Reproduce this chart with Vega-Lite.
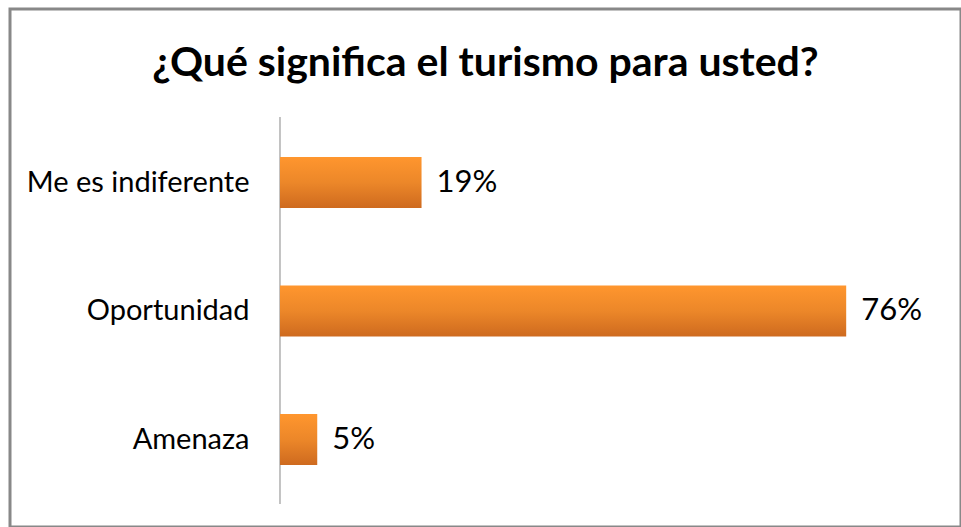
{
  "$schema": "https://vega.github.io/schema/vega-lite/v6.json",
  "autosize": {"type": "none"},
  "padding": {"left": 10, "top": 9, "right": 0, "bottom": 0},
  "width": 951,
  "height": 518,
  "background": "white",
  "config": {
    "view": {"stroke": "#888888", "strokeWidth": 3},
    "font": "Lato"
  },
  "title": {
    "text": "¿Qué significa el turismo para usted?",
    "font": "Lato",
    "fontSize": 41,
    "fontWeight": "bold",
    "color": "#000000",
    "anchor": "middle",
    "frame": "group",
    "baseline": "alphabetic",
    "offset": -108
  },
  "data": {
    "values": [
      {"categoria": "Me es indiferente", "valor": 0.19},
      {"categoria": "Oportunidad", "valor": 0.76},
      {"categoria": "Amenaza", "valor": 0.05}
    ]
  },
  "resolve": {"scale": {"y": "independent"}},
  "layer": [
    {
      "mark": {"type": "tick", "orient": "vertical", "size": 129, "thickness": 1, "color": "#888888", "opacity": 1},
      "encoding": {
        "x": {"datum": 0, "type": "quantitative", "scale": {"domain": [-0.3624, 0.9141], "nice": false, "zero": false}, "axis": null},
        "y": {
          "field": "categoria", "type": "nominal", "sort": null, "axis": null,
          "scale": {"paddingInner": 0, "paddingOuter": 0.5078, "align": 0.824}
        }
      }
    },
    {
      "layer": [
        {
          "mark": {
            "type": "bar",
            "color": {
              "gradient": "linear", "x1": 0, "y1": 0, "x2": 0, "y2": 1,
              "stops": [
                {"offset": 0, "color": "#FF962E"},
                {"offset": 0.5, "color": "#EC8729"},
                {"offset": 1, "color": "#CE6A1F"}
              ]
            }
          },
          "encoding": {
            "x": {"field": "valor", "type": "quantitative", "scale": {"domain": [-0.3624, 0.9141], "nice": false, "zero": false}, "axis": null},
            "x2": {"datum": 0},
            "y": {
              "field": "categoria", "type": "nominal", "sort": null,
              "scale": {"paddingInner": 0.603, "paddingOuter": 0.817, "align": 0.705},
              "axis": {
                "title": null, "offset": -270, "domain": false, "ticks": false,
                "labelPadding": 31, "labelFont": "Lato", "labelFontSize": 29,
                "labelColor": "#000000", "labelLimit": 400
              }
            }
          }
        },
        {
          "mark": {"type": "text", "align": "left", "baseline": "middle", "dx": 15, "font": "Lato", "fontSize": 31, "color": "#000000"},
          "encoding": {
            "x": {"field": "valor", "type": "quantitative"},
            "y": {"field": "categoria", "type": "nominal", "sort": null},
            "text": {"field": "valor", "type": "quantitative", "format": ".0%"}
          }
        }
      ]
    }
  ]
}
